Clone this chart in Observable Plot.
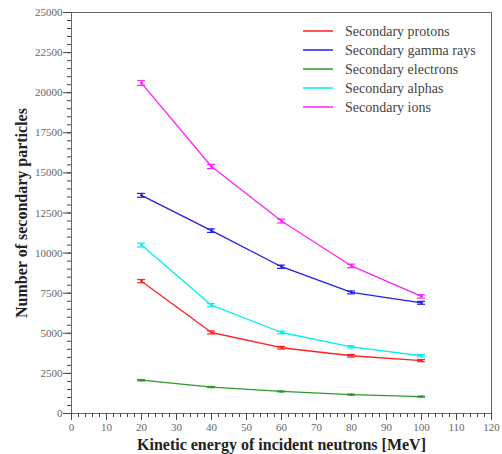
<!DOCTYPE html>
<html>
<head>
<meta charset="utf-8">
<script src="https://cdn.jsdelivr.net/npm/d3@7"></script>
<script src="https://cdn.jsdelivr.net/npm/@observablehq/plot@0.6"></script>
<style>
  html, body { margin: 0; padding: 0; background: #fff; }
  #wrap { position: relative; width: 502px; height: 454px; }
  #wrap svg { font-family: "Liberation Serif", "DejaVu Serif", serif; }
  g[aria-label="y-axis label"] text, g[aria-label="x-axis label"] text { font-weight: bold; font-size: 16px; fill: #222; }
  #legend { position: absolute; left: 300px; top: 20px; }
</style>
</head>
<body>
<div id="wrap"></div>
<script>
const energies = [20, 40, 60, 80, 100];
const seriesNames = ["Secondary protons", "Secondary gamma rays", "Secondary electrons", "Secondary alphas", "Secondary ions"];
const seriesColors = ["#ff2020", "#2020e8", "#2a9a2a", "#00eeee", "#ff20ff"];
const protons   = [8250, 5050, 4100, 3600, 3300];
const gammaRays = [13600, 11400, 9150, 7550, 6900];
const electrons = [2075, 1650, 1375, 1175, 1050];
const alphas    = [10500, 6750, 5050, 4150, 3600];
const ions      = [20600, 15400, 12000, 9200, 7300];
const errProtons   = [100, 90, 80, 80, 70];
const errGamma     = [120, 110, 100, 90, 90];
const errElectrons = [40, 35, 30, 30, 30];
const errAlphas    = [120, 100, 80, 70, 70];
const errIons      = [150, 130, 120, 110, 100];
const yMajorTicks = d3.range(0, 25001, 2500);
const yMinorTicks = d3.range(0, 25001, 500);
const xMajorTicks = d3.range(0, 121, 10);
const xMinorTicks = d3.range(0, 121, 2);

const allValues = [protons, gammaRays, electrons, alphas, ions];
const allErrors = [errProtons, errGamma, errElectrons, errAlphas, errIons];
const rows = [];
allValues.forEach((vals, s) => {
  vals.forEach((v, i) => rows.push({series: seriesNames[s], x: energies[i], y: v, e: allErrors[s][i]}));
});

const chart = Plot.plot({
  width: 502,
  height: 454,
  marginLeft: 71,
  marginRight: 11,
  marginTop: 12,
  marginBottom: 41,
  x: {domain: [0, 120]},
  y: {domain: [0, 25000]},
  color: {domain: seriesNames, range: seriesColors},
  style: {fontFamily: "Liberation Serif, DejaVu Serif, serif", fontSize: "11px", color: "#666"},
  marks: [
    Plot.frame({stroke: "#666", strokeWidth: 1}),
    Plot.axisY(yMinorTicks, {tickSize: 4, tickFormat: () => "", stroke: "#444", label: null}),
    Plot.axisX(xMinorTicks, {tickSize: 4, tickFormat: () => "", stroke: "#444", label: null}),
    Plot.axisY(yMajorTicks, {tickSize: 8, tickPadding: 1, tickFormat: "d", stroke: "#444", fill: "#666", fontSize: 11,
      label: "Number of secondary particles", labelAnchor: "center", labelArrow: false, labelOffset: 56}),
    Plot.axisX(xMajorTicks, {tickSize: 7, tickPadding: 3, tickFormat: "d", stroke: "#444", fill: "#666", fontSize: 11,
      label: "Kinetic energy of incident neutrons [MeV]", labelAnchor: "center", labelArrow: false, labelOffset: 36}),
    Plot.line(rows, {x: "x", y: "y", z: "series", stroke: "series", strokeWidth: 1.3}),
    Plot.ruleX(rows, {x: "x", y1: d => d.y - d.e, y2: d => d.y + d.e, stroke: "series", strokeWidth: 1.3}),
    Plot.ruleY(rows, {y: d => d.y - d.e, x1: d => d.x - 1.15, x2: d => d.x + 1.15, stroke: "series", strokeWidth: 1.2}),
    Plot.ruleY(rows, {y: d => d.y + d.e, x1: d => d.x - 1.15, x2: d => d.x + 1.15, stroke: "series", strokeWidth: 1.2}),
    Plot.dot(rows, {x: "x", y: "y", r: 1.3, fill: "series"})
  ]
});

const wrap = document.getElementById("wrap");
wrap.appendChild(chart);

const rowH = 19;
const leg = d3.create("svg")
  .attr("id", "legend")
  .attr("width", 190)
  .attr("height", rowH * seriesNames.length + 4);
const g = leg.selectAll("g").data(seriesNames).join("g")
  .attr("transform", (d, i) => `translate(0,${11 + i * rowH})`);
g.append("line")
  .attr("x1", 3).attr("x2", 33).attr("y1", 0).attr("y2", 0)
  .attr("stroke", (d, i) => seriesColors[i])
  .attr("stroke-width", 1.5);
g.append("text")
  .attr("x", 45).attr("y", 0).attr("dy", "0.35em")
  .attr("fill", "#444")
  .style("font-family", "Liberation Serif, DejaVu Serif, serif")
  .style("font-size", "14px")
  .text(d => d);
wrap.appendChild(leg.node());
</script>
</body>
</html>
